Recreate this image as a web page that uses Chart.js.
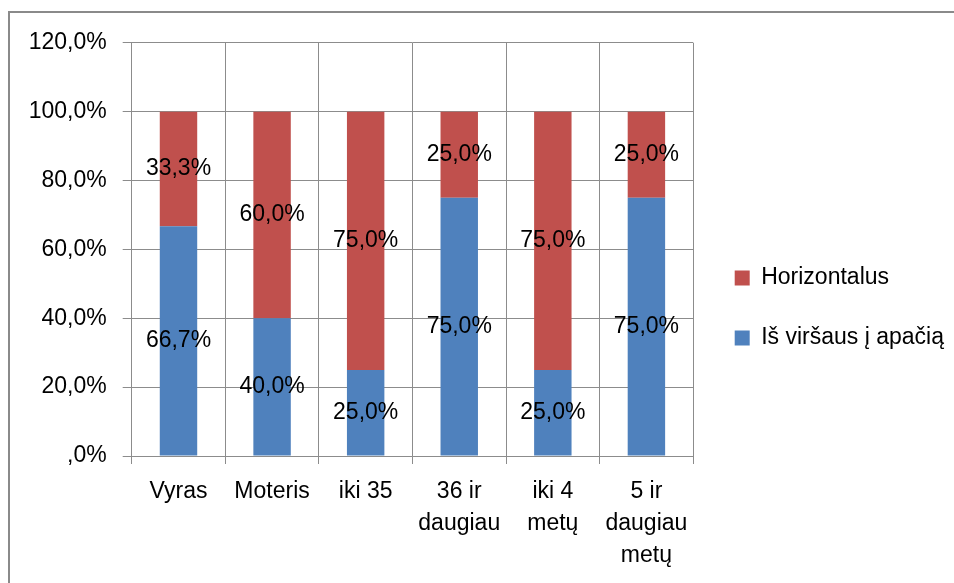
<!DOCTYPE html>
<html><head><meta charset="utf-8">
<script src="https://cdn.jsdelivr.net/npm/chart.js@4.4.0/dist/chart.umd.min.js"></script>
<style>
html,body{margin:0;padding:0;background:#fff;overflow:hidden;width:954px;height:583px;}
#frame{position:absolute;left:8px;top:11px;width:946px;height:572px;box-sizing:border-box;border-left:2px solid #8a8a8a;border-top:2px solid #8a8a8a;}
#box{position:relative;width:944px;height:561px;}
</style></head><body>
<div id="frame"><div id="box"><canvas id="c"></canvas></div></div>
<script>
const categories = [['Vyras'], ['Moteris'], ['iki 35'], ['36 ir', 'daugiau'], ['iki 4', 'metų'], ['5 ir', 'daugiau', 'metų']];
const seriesNames = ['Iš viršaus į apačią', 'Horizontalus'];
const topDownValues = [66.7, 40.0, 25.0, 75.0, 25.0, 75.0];
const horizontalValues = [33.3, 60.0, 75.0, 25.0, 75.0, 25.0];
const yTickLabels = [',0%', '20,0%', '40,0%', '60,0%', '80,0%', '100,0%', '120,0%'];

const FONT = '"Liberation Sans", Arial, sans-serif';
const GRID = '#8c8c8c';
const fmt = v => v.toFixed(1).replace('.', ',') + '%';

const valueLabels = {
  id: 'valueLabels',
  afterDatasetsDraw(chart) {
    const ctx = chart.ctx;
    ctx.save();
    ctx.font = '23px ' + FONT;
    ctx.fillStyle = '#000';
    ctx.textAlign = 'center';
    ctx.textBaseline = 'middle';
    chart.data.datasets.forEach((ds, di) => {
      const meta = chart.getDatasetMeta(di);
      meta.data.forEach((el, i) => {
        const p = el.getProps(['x', 'y', 'base'], true);
        ctx.fillText(fmt(ds.data[i]), p.x, (p.y + p.base) / 2);
      });
    });
    ctx.restore();
  }
};

new Chart(document.getElementById('c'), {
  type: 'bar',
  data: {
    labels: categories,
    datasets: [
      { label: seriesNames[0], data: topDownValues, backgroundColor: '#4F81BD', borderWidth: 0, barPercentage: 0.4, categoryPercentage: 1.0 },
      { label: seriesNames[1], data: horizontalValues, backgroundColor: '#C0504D', borderWidth: 0, barPercentage: 0.4, categoryPercentage: 1.0 }
    ]
  },
  options: {
    responsive: true,
    maintainAspectRatio: false,
    animation: false,
    layout: { padding: { top: 29, left: 0, right: 0, bottom: 0 } },
    plugins: {
      tooltip: { enabled: false },
      legend: {
        position: 'right',
        reverse: true,
        maxWidth: 261,
        labels: {
          boxWidth: 15, boxHeight: 15, padding: 37, color: '#000',
          font: { family: FONT, size: 23 }
        }
      }
    },
    scales: {
      x: {
        stacked: true,
        grid: { offset: true, color: GRID, tickLength: 8 },
        border: { color: GRID },
        ticks: { color: '#000', padding: 12, maxRotation: 0, minRotation: 0, autoSkip: false,
          font: { family: FONT, size: 23, lineHeight: 1.39 } },
        afterFit(s) { s.height = 118; }
      },
      y: {
        stacked: true, min: 0, max: 120,
        grid: { color: GRID, tickLength: 9 },
        border: { color: GRID },
        ticks: { stepSize: 20, color: '#000', padding: 16,
          font: { family: FONT, size: 23 },
          callback: (v, i) => yTickLabels[i] },
        afterFit(s) { s.width = 121.7; }
      },
      gap: {
        position: 'right', min: 0, max: 120,
        grid: { display: false, drawTicks: false },
        border: { display: false },
        ticks: { display: false },
        afterFit(s) { s.width = 4.5; }
      }
    }
  },
  plugins: [valueLabels]
});
</script>
</body></html>
